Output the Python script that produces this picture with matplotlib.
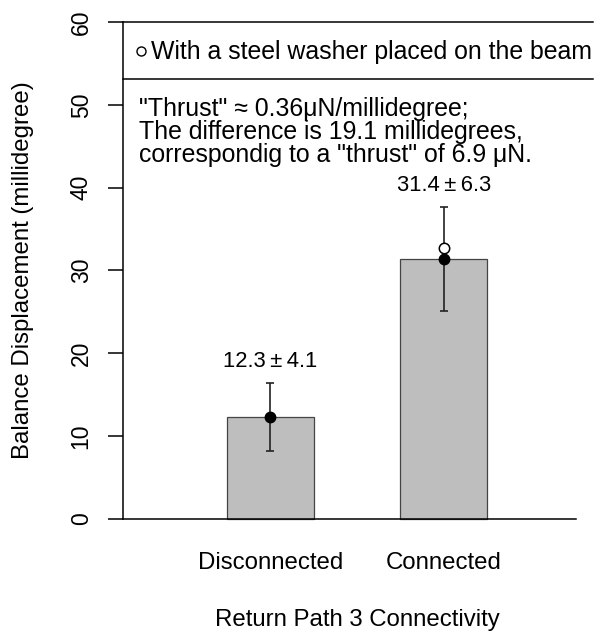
import matplotlib
matplotlib.use('Agg')
import matplotlib.pyplot as plt
import matplotlib.transforms as mtransforms

plt.rcParams['font.family'] = ['Liberation Sans', 'DejaVu Sans']

# data
groups = ['Disconnected', 'Connected']
means = [12.3, 31.4]
sds = [4.1, 6.3]
bar_left = [1, 3]
washer_x = [3.5]
washer_y = [32.7]
yticks = [0, 10, 20, 30, 40, 50, 60]
note = ('"Thrust" \u2248 0.36\u03bcN/millidegree;\n'
        'The difference is 19.1 millidegrees,\n'
        'correspondig to a "thrust" of 6.9 \u03bcN.')
legend_label = 'With a steel washer placed on the beam'

fs = 17.3
fs_note = 17.9
fs_small = 15.8

fig = plt.figure(figsize=(6.03, 6.33), dpi=100)
ax = fig.add_axes([123 / 603, 1 - 539 / 633, 468 / 603, 537 / 633])
ax.set_xlim(-0.2, 5.2)
ax.set_ylim(-2.4, 62.4)

centers = [l + 0.5 for l in bar_left]
ax.bar(bar_left, means, width=1, align='edge', color='#bebebe',
       edgecolor='#444444', linewidth=0.9, zorder=2)
ax.errorbar(centers, means, yerr=sds, fmt='none', ecolor='#222222',
            elinewidth=1.2, capsize=3, capthick=1.2, zorder=3)
ax.plot(centers, means, 'o', color='black', markersize=7.5, zorder=4)
ax.plot(washer_x, washer_y, 'o', mfc='white', mec='black', mew=1.1,
        markersize=7.5, zorder=3.5)

for c, m, s in zip(centers, means, sds):
    ax.text(c, m + s + 2.6, f'{m}\u2009\u00b1\u2009{s}', ha='center',
            va='center', fontsize=fs_small)

# baseline at zero
ax.plot([-0.2, 5.03], [0, 0], color='black', lw=1.1, clip_on=False)

# legend box (clipped on the right)
ax.plot([-0.2, 5.22], [60, 60], color='black', lw=1.1, clip_on=False)
ax.plot([-0.2, 5.22], [53.1, 53.1], color='black', lw=1.1, clip_on=False)
ax.plot([0.01], [56.5], 'o', mfc='white', mec='black', mew=1.0,
        markersize=6.5, clip_on=False)
ax.text(0.125, 56.4, legend_label, ha='left', va='center', fontsize=fs_note)

ax.text(-0.01, 50.9, note, ha='left', va='top', fontsize=fs_note,
        linespacing=0.95)

for sp in ['top', 'right', 'bottom']:
    ax.spines[sp].set_visible(False)
ax.spines['left'].set_bounds(0, 60)
ax.spines['left'].set_linewidth(1.1)
ax.set_yticks(yticks)
ax.tick_params(axis='y', length=10.8, width=1.1, pad=11, labelsize=16.5)
for lab in ax.get_yticklabels():
    lab.set_rotation(90)
    lab.set_va('center')
ax.set_xticks([])

trans = mtransforms.blended_transform_factory(ax.transData, fig.transFigure)
for c, g in zip(centers, groups):
    ax.text(c, 1 - 563 / 633, g, transform=trans, ha='center', va='center',
            fontsize=fs)
fig.text(357 / 603, 1 - 620 / 633, 'Return Path 3 Connectivity',
         ha='center', va='center', fontsize=fs)
fig.text(23 / 603, 1 - 270 / 633, 'Balance Displacement (millidegree)',
         ha='center', va='center', rotation=90, fontsize=fs)

fig.savefig('out.png', dpi=100)
